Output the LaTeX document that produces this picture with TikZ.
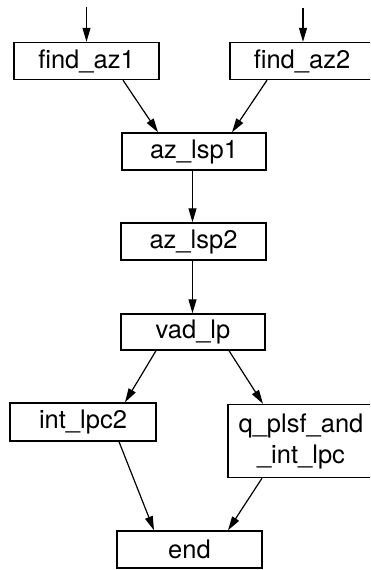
\documentclass[tikz,border=0pt]{standalone}
\usepackage{fontspec}
\setmainfont{TeX Gyre Heros}
\usetikzlibrary{arrows.meta}
\begin{document}
\begin{tikzpicture}[x=1pt,y=-1pt,
  proc/.style={draw,line width=1.4pt,rectangle,inner sep=0pt,
    minimum width=145pt,minimum height=37pt,align=center,
    font=\fontsize{25.5}{31}\selectfont},
  arr/.style={line width=1.2pt,-{Triangle[length=14pt,width=8pt]}}]
\useasboundingbox (0,0) rectangle (370,570);
\begin{scope}
\clip (0,0) rectangle (370,570);
% processing blocks
\node[proc] (f1) at (86.5,61) {find\_az1};
\node[proc,minimum width=144pt] (f2) at (302,61) {find\_az2};
\node[proc,minimum width=144pt] (l1) at (194,151.5) {az\_lsp1};
\node[proc] (l2) at (193.5,241.5) {az\_lsp2};
\node[proc,minimum width=144pt,minimum height=36pt] (vad) at (193,332) {vad\_lp};
\node[proc,minimum width=146pt,minimum height=38pt] (ipc) at (83,422) {int\_lpc2};
\node[proc,minimum width=146pt,minimum height=73pt] (q) at (301,441) {q\_plsf\_and\\\_int\_lpc};
\node[proc] (e) at (189.5,549.5) {end};
% inputs
\coordinate (in1) at (86.5,7);
\coordinate (in2) at (303,8);
\draw[arr] (in1) -- (f1.north);
\draw[arr] (in2) -- (in2 |- f2.north);
% data flow
\draw[arr] ([xshift=36.5pt]f1.south) -- ([xshift=-36pt]l1.north);
\draw[arr] ([xshift=-35pt]f2.south) -- ([xshift=38pt]l1.north);
\draw[arr] ([xshift=-1.5pt]l1.south) -- ([xshift=-1pt]l2.north);
\draw[arr] ([xshift=-1pt]l2.south) -- ([xshift=-0.5pt]vad.north);
\draw[arr] ([xshift=-37pt]vad.south) -- ([xshift=42pt]ipc.north);
\draw[arr] ([xshift=36pt]vad.south) -- ([xshift=-38pt]q.north);
\draw[arr] ([xshift=36pt]ipc.south) -- ([xshift=-35.5pt]e.north);
\draw[arr] ([xshift=-39pt]q.south) -- ([xshift=38.5pt]e.north);
\end{scope}
\end{tikzpicture}
\end{document}
